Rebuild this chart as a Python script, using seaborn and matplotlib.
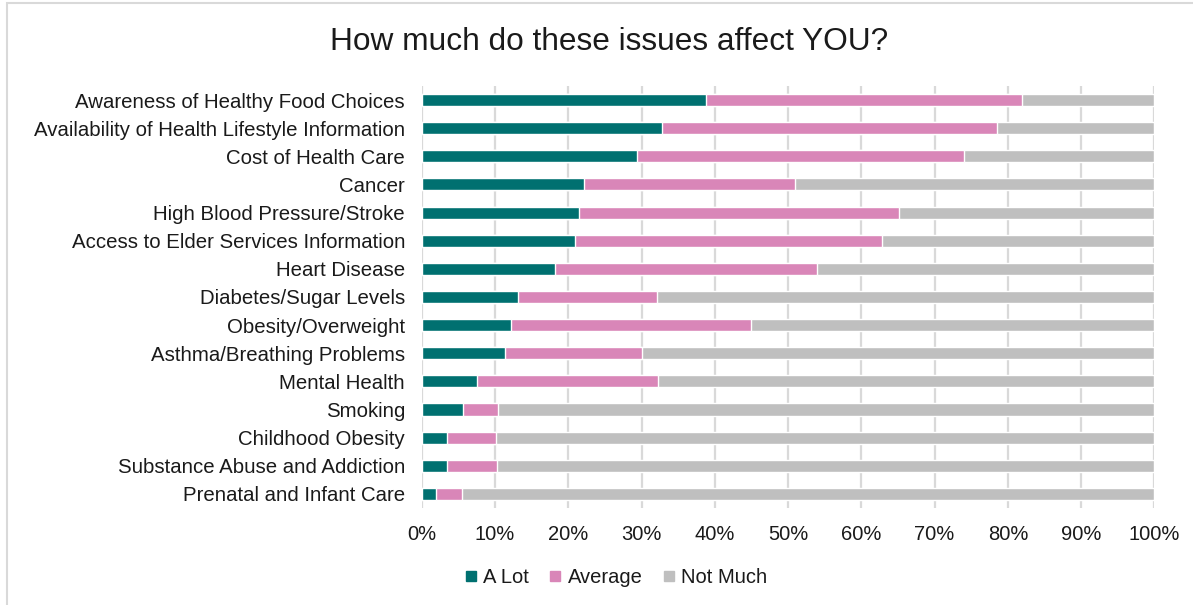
import numpy as np
import pandas as pd
import matplotlib
matplotlib.use("Agg")
import matplotlib.pyplot as plt
from matplotlib.lines import Line2D
from matplotlib.patches import Rectangle
import seaborn as sns

# issues, top to bottom
issues = [
    "Awareness of Healthy Food Choices",
    "Availability of Health Lifestyle Information",
    "Cost of Health Care",
    "Cancer",
    "High Blood Pressure/Stroke",
    "Access to Elder Services Information",
    "Heart Disease",
    "Diabetes/Sugar Levels",
    "Obesity/Overweight",
    "Asthma/Breathing Problems",
    "Mental Health",
    "Smoking",
    "Childhood Obesity",
    "Substance Abuse and Addiction",
    "Prenatal and Infant Care",
]
a_lot = [38.8, 32.8, 29.4, 22.2, 21.4, 20.9, 18.2, 13.1, 12.2, 11.4, 7.6, 5.6, 3.4, 3.4, 1.9]
average = [43.1, 45.7, 44.6, 28.8, 43.8, 41.9, 35.8, 19.0, 32.8, 18.6, 24.6, 4.8, 6.7, 6.9, 3.6]
not_much = [18.1, 21.5, 26.0, 49.0, 34.8, 37.2, 46.0, 67.9, 55.0, 70.0, 67.8, 89.6, 89.9, 89.7, 94.5]

series = ["A Lot", "Average", "Not Much"]
colors = ["#007070", "#D986B8", "#BFBFBF"]

df = pd.DataFrame({"issue": issues, "A Lot": a_lot, "Average": average, "Not Much": not_much})
# running totals for stacking
df["c1"] = df["A Lot"]
df["c2"] = df["A Lot"] + df["Average"]
df["c3"] = df["c2"] + df["Not Much"]

sns.set_theme(style="white")
plt.rcParams["font.family"] = ["Liberation Sans", "DejaVu Sans"]

fig = plt.figure(figsize=(11.93, 6.05), dpi=100)
ax = fig.add_axes([0.3535, 0.1603, 0.6141, 0.6976])

# draw back to front
for col, c in zip(["c3", "c2", "c1"], colors[::-1]):
    sns.barplot(data=df, x=col, y="issue", orient="h", color=c, width=0.43,
                saturation=1, ax=ax, zorder=3)

ax.set_xlim(0, 100)
ax.set_ylim(14.5, -0.5)
ax.set_xticks(np.arange(0, 101, 10))
ax.set_xticklabels([f"{v}%" for v in range(0, 101, 10)])
ax.grid(axis="x", color="#D9D9D9", linewidth=1.6, zorder=0)
ax.set_axisbelow(True)
for s in ax.spines.values():
    s.set_visible(False)
ax.set_xlabel("")
ax.set_ylabel("")
ax.tick_params(axis="y", length=0, pad=12, labelsize=14.7, labelcolor="#1a1a1a")
ax.tick_params(axis="x", length=0, pad=12, labelsize=14.5, labelcolor="#1a1a1a")

fig.text(0.5105, 0.93, "How much do these issues affect YOU?", ha="center", va="center",
         fontsize=22.8, color="#1a1a1a")

handles = [Line2D([], [], marker="s", linestyle="none", markersize=7,
                  markerfacecolor=c, markeredgecolor=c) for c in colors]
fig.legend(handles, series, loc="center", bbox_to_anchor=(0.5155, 0.045), ncol=3,
           frameon=False, fontsize=14.5, handletextpad=0.2, columnspacing=0.9,
           handlelength=0.8, labelcolor="#1a1a1a")

# outer chart-area border (top and left visible)
fig.patches.append(Rectangle((7 / 1193, -0.1), 1.2, 1.1 - 3 / 605, transform=fig.transFigure,
                             fill=False, edgecolor="#D9D9D9", linewidth=1.5))

fig.savefig("out.png", dpi=100)
